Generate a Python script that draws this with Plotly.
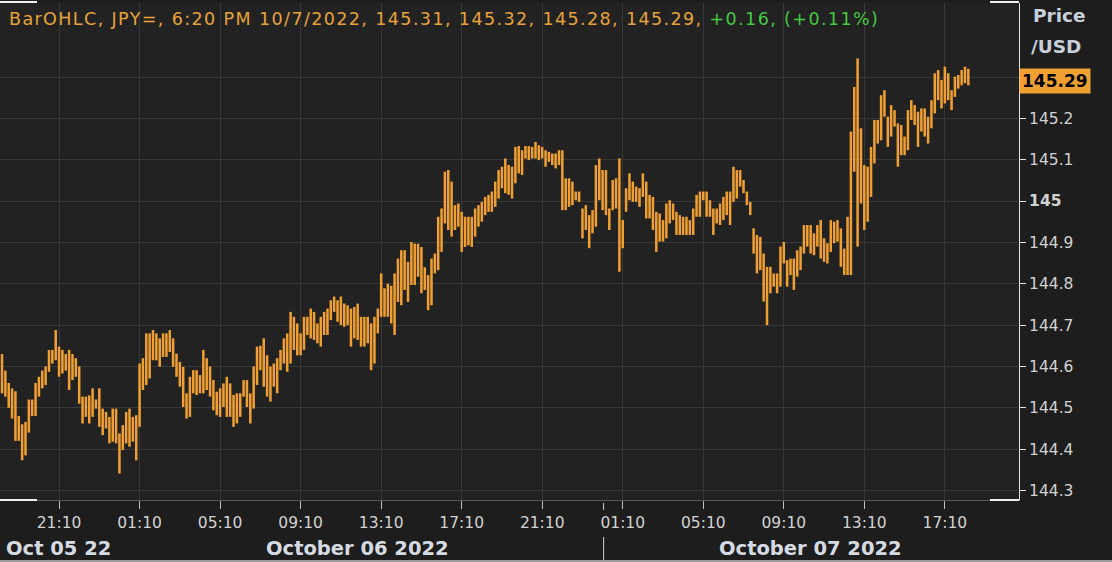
import pandas as pd
import plotly.graph_objects as go

# ---------------- data (10-minute bars, USD/JPY) ----------------
bar_high = [
    # Oct 5 evening -> Oct 6 morning
    144.630, 144.590, 144.560, 144.547, 144.540, 144.480, 144.460, 144.466, 144.520, 144.520,
    144.560, 144.575, 144.590, 144.600, 144.640, 144.640, 144.688, 144.648, 144.640, 144.630,
    144.640, 144.630, 144.620, 144.600, 144.527, 144.527, 144.530, 144.547, 144.520, 144.547,
    144.498, 144.490, 144.478, 144.498, 144.498, 144.438, 144.458, 144.490, 144.498, 144.478,
    144.482, 144.607, 144.620, 144.680, 144.680, 144.688, 144.680, 144.668, 144.680, 144.680,
    144.688, 144.668, 144.631, 144.611, 144.599, 144.535, 144.575, 144.591, 144.591, 144.579,
    144.640, 144.620, 144.600, 144.567, 144.539, 144.547, 144.559, 144.575, 144.559, 144.531,
    144.535, 144.535, 144.567, 144.567,
    # Oct 6 day
    144.535, 144.600, 144.648, 144.650, 144.668, 144.627, 144.600, 144.607, 144.620, 144.640,
    144.668, 144.680, 144.732, 144.720, 144.704, 144.680, 144.720, 144.720, 144.740, 144.732,
    144.704, 144.720, 144.732, 144.740, 144.760, 144.769, 144.760, 144.769, 144.752, 144.748,
    144.740, 144.744, 144.752, 144.720, 144.720, 144.720, 144.704, 144.720, 144.740, 144.825,
    144.789, 144.800, 144.795, 144.825, 144.861, 144.881, 144.881, 144.853, 144.901, 144.897,
    144.897, 144.889, 144.840, 144.821, 144.861, 144.873, 144.962, 144.982, 145.071, 145.075,
    145.047, 144.990, 144.994, 144.974, 144.962, 144.962, 144.962, 144.982, 144.990, 144.998,
    145.010, 145.015, 145.023, 145.047, 145.075,
    # Oct 6 evening -> Oct 7 morning
    145.083, 145.103, 145.087, 145.083, 145.131, 145.133, 145.123, 145.133, 145.133, 145.131,
    145.143, 145.135, 145.131, 145.123, 145.119, 145.115, 145.115, 145.123, 145.123, 145.055,
    145.055, 145.047, 145.023, 145.023, 144.982, 144.990, 144.966, 144.978, 145.087, 145.103,
    145.075, 145.075, 144.982, 145.051, 145.055, 145.103, 144.954, 145.031, 145.067, 145.047,
    145.035, 145.031, 145.067, 145.047, 145.015, 145.010, 144.974, 144.970, 144.954, 144.994,
    145.002, 144.994, 144.974, 144.966, 144.962, 144.962, 144.954, 144.982, 145.015, 145.023,
    145.023, 145.023, 145.002, 144.982, 144.982, 144.994, 145.010, 145.023, 145.023, 145.083,
    145.075, 145.075, 145.051, 145.023, 144.998,
    # Oct 7 day
    144.934, 144.918, 144.913, 144.873, 144.841, 144.841, 144.825, 144.825, 144.890, 144.901,
    144.857, 144.861, 144.861, 144.881, 144.890, 144.942, 144.942, 144.942, 144.922, 144.942,
    144.954, 144.910, 144.898, 144.954, 144.950, 144.954, 144.934, 144.885, 144.962, 145.168,
    145.276, 145.345, 145.176, 145.087, 145.083, 145.131, 145.196, 145.196, 145.256, 145.268,
    145.204, 145.232, 145.220, 145.188, 145.184, 145.156, 145.220, 145.244, 145.232, 145.216,
    145.224, 145.224, 145.204, 145.244, 145.309, 145.317, 145.293, 145.325, 145.309, 145.268,
    145.301, 145.305, 145.317, 145.325, 145.320,
]
bar_low = [
    144.535, 144.527, 144.500, 144.474, 144.420, 144.420, 144.373, 144.385, 144.440, 144.480,
    144.480, 144.527, 144.547, 144.555, 144.587, 144.607, 144.615, 144.575, 144.583, 144.590,
    144.543, 144.567, 144.575, 144.510, 144.462, 144.478, 144.462, 144.478, 144.498, 144.454,
    144.434, 144.450, 144.414, 144.418, 144.414, 144.341, 144.398, 144.414, 144.406, 144.418,
    144.373, 144.454, 144.543, 144.555, 144.571, 144.615, 144.615, 144.599, 144.623, 144.623,
    144.635, 144.599, 144.575, 144.551, 144.502, 144.474, 144.478, 144.535, 144.531, 144.535,
    144.535, 144.543, 144.527, 144.494, 144.482, 144.478, 144.502, 144.478, 144.478, 144.454,
    144.462, 144.478, 144.527, 144.502,
    144.462, 144.498, 144.555, 144.591, 144.551, 144.527, 144.515, 144.551, 144.535, 144.591,
    144.607, 144.587, 144.607, 144.640, 144.627, 144.627, 144.640, 144.676, 144.668, 144.664,
    144.656, 144.648, 144.676, 144.676, 144.712, 144.732, 144.708, 144.700, 144.696, 144.700,
    144.648, 144.668, 144.664, 144.648, 144.648, 144.656, 144.591, 144.607, 144.680, 144.720,
    144.720, 144.720, 144.704, 144.676, 144.756, 144.748, 144.785, 144.756, 144.797, 144.797,
    144.817, 144.777, 144.785, 144.736, 144.748, 144.825, 144.833, 144.877, 144.946, 144.930,
    144.914, 144.930, 144.938, 144.877, 144.889, 144.893, 144.889, 144.914, 144.938, 144.950,
    144.966, 144.974, 144.974, 144.986, 145.006,
    145.031, 145.019, 145.015, 145.006, 145.043, 145.067, 145.063, 145.103, 145.099, 145.103,
    145.103, 145.099, 145.103, 145.083, 145.095, 145.087, 145.079, 145.087, 144.978, 144.978,
    144.986, 144.990, 145.002, 144.998, 144.910, 144.930, 144.886, 144.922, 144.938, 145.002,
    144.978, 144.966, 144.930, 144.978, 144.982, 144.829, 144.886, 144.974, 145.002, 144.998,
    144.998, 144.986, 145.010, 144.958, 144.958, 144.930, 144.877, 144.902, 144.902, 144.910,
    144.946, 144.954, 144.918, 144.918, 144.918, 144.918, 144.918, 144.918, 144.962, 144.962,
    145.002, 144.962, 144.962, 144.918, 144.946, 144.942, 144.954, 144.966, 144.942, 144.998,
    145.006, 145.035, 145.019, 144.990, 144.966,
    144.873, 144.825, 144.833, 144.757, 144.700, 144.777, 144.793, 144.777, 144.793, 144.849,
    144.793, 144.821, 144.785, 144.817, 144.833, 144.873, 144.890, 144.873, 144.869, 144.890,
    144.861, 144.853, 144.849, 144.877, 144.898, 144.902, 144.841, 144.821, 144.821, 144.821,
    145.071, 144.890, 144.994, 144.930, 144.950, 145.010, 145.091, 145.139, 145.147, 145.204,
    145.131, 145.156, 145.180, 145.083, 145.111, 145.111, 145.123, 145.196, 145.184, 145.131,
    145.168, 145.156, 145.139, 145.176, 145.212, 145.244, 145.224, 145.236, 145.244, 145.220,
    145.252, 145.272, 145.280, 145.285, 145.280,
]
last_bar_time = "2022-10-07 18:20"
last_ohlc = ["145.31", "145.32", "145.28", "145.29"]
last_change = ["+0.16", "(+0.11%)"]
last_price = 145.29

x_tick_times = ["2022-10-05 21:10", "2022-10-06 01:10", "2022-10-06 05:10", "2022-10-06 09:10",
                "2022-10-06 13:10", "2022-10-06 17:10", "2022-10-06 21:10", "2022-10-07 01:10",
                "2022-10-07 05:10", "2022-10-07 09:10", "2022-10-07 13:10", "2022-10-07 17:10"]
x_tick_labels = ["21:10", "01:10", "05:10", "09:10", "13:10", "17:10",
                 "21:10", "01:10", "05:10", "09:10", "13:10", "17:10"]
y_tick_vals = [144.3, 144.4, 144.5, 144.6, 144.7, 144.8, 144.9, 145.0, 145.1, 145.2, 145.3]
y_tick_text = ["144.3", "144.4", "144.5", "144.6", "144.7", "144.8", "144.9",
               "<b>145</b>", "145.1", "145.2", ""]
date_labels = ["Oct 05 22", "October 06 2022", "October 07 2022"]

# ---------------- styling ----------------
ORANGE = "#f0a032"
PLOT_BG = "#222222"
PAPER_BG = "#1d1d1d"
GRID = "#383838"
FONT = "DejaVu Sans"
X0, X1 = "2022-10-05 18:14", "2022-10-07 20:51"
Y0, Y1 = 144.277, 145.479

n = len(bar_high)
times = pd.date_range(end=last_bar_time, periods=n, freq="10min")
spans = [h - l for h, l in zip(bar_high, bar_low)]

fig = go.Figure()
fig.add_trace(go.Bar(
    x=times, y=spans, base=bar_low,
    width=450000,
    marker=dict(color=ORANGE, line=dict(width=0)),
    hoverinfo="skip",
))

title_html = ('<span style="color:#e8a23c;letter-spacing:1.4px">BarOHLC, JPY=, 6:20 PM 10/7/2022, '
              + ", ".join(last_ohlc) + ', </span>'
              + '<span style="color:#43c943;letter-spacing:1.4px">' + ", ".join(last_change) + '</span>')

H = 497.0  # plot height in px
W = 1019.0  # plot width in px


def py(px):
    return (500 - px) / H


def px_(x):
    return x / W


DATE_FONT = dict(family=FONT, size=19.5, color="#d6dbe3")
annotations = [
    dict(text=title_html, xref="paper", yref="paper", x=px_(7), y=py(19),
         xanchor="left", yanchor="middle", showarrow=False,
         font=dict(family=FONT, size=17.5, color="#e8a23c")),
    dict(text="<b>Price</b>", xref="paper", yref="paper",
         x=px_(1031), y=py(16), xanchor="left", yanchor="middle", align="left",
         showarrow=False, font=dict(family=FONT, size=18.5, color="#c8d0dc")),
    dict(text="<b>/USD</b>", xref="paper", yref="paper",
         x=px_(1029), y=py(46), xanchor="left", yanchor="middle", align="left",
         showarrow=False, font=dict(family=FONT, size=18.5, color="#c8d0dc")),
    dict(text="<b>%.2f</b>" % last_price, xref="paper", yref="y", x=1.0, y=last_price,
         xanchor="left", yanchor="middle", showarrow=False, bgcolor=ORANGE,
         borderpad=2, font=dict(family=FONT, size=17, color="#000000")),
    dict(text="<b>%s</b>" % date_labels[0], xref="paper", yref="paper", x=px_(4), y=py(548),
         xanchor="left", yanchor="middle", showarrow=False, font=DATE_FONT),
    dict(text="<b>%s</b>" % date_labels[1], xref="x", yref="paper", x="2022-10-06 12:00",
         y=py(548), xanchor="center", yanchor="middle", showarrow=False, font=DATE_FONT),
    dict(text="<b>%s</b>" % date_labels[2], xref="x", yref="paper", x="2022-10-07 10:30",
         y=py(548), xanchor="center", yanchor="middle", showarrow=False, font=DATE_FONT),
]

shapes = [
    # band behind the header text (covers vertical grid lines)
    dict(type="rect", xref="x", yref="y", x0=X0, x1=X1, y0=145.406, y1=Y1,
         fillcolor=PLOT_BG, line=dict(width=0), layer="below"),
    # day separator
    dict(type="line", xref="x", yref="paper", x0="2022-10-07 00:13", x1="2022-10-07 00:13",
         y0=py(537), y1=py(562), line=dict(color="#d0d0d0", width=1)),
    dict(type="line", xref="x", yref="paper", x0="2022-10-07 00:13", x1="2022-10-07 00:13",
         y0=py(503), y1=py(510), line=dict(color="#d0d0d0", width=1)),
    # white range handles
    dict(type="line", xref="paper", yref="paper", x0=0, x1=px_(37), y0=py(2), y1=py(2),
         line=dict(color="#f0f0f0", width=2)),
    dict(type="line", xref="paper", yref="paper", x0=0, x1=px_(37), y0=0, y1=0,
         line=dict(color="#f0f0f0", width=2)),
    dict(type="line", xref="paper", yref="paper", x0=px_(990), x1=1, y0=0, y1=0,
         line=dict(color="#f0f0f0", width=2)),
    dict(type="line", xref="paper", yref="paper", x0=px_(990), x1=1, y0=py(2), y1=py(2),
         line=dict(color="#f0f0f0", width=2)),
    # bottom edge
    dict(type="line", xref="paper", yref="paper", x0=0, x1=px_(1112), y0=py(561), y1=py(561),
         line=dict(color="#9a9a9a", width=2)),
]

fig.update_layout(
    width=1112, height=562,
    margin=dict(l=0, r=93, t=3, b=62, autoexpand=False),
    paper_bgcolor=PAPER_BG, plot_bgcolor=PLOT_BG,
    showlegend=False,
    font=dict(family=FONT, size=15, color="#d0d0d0"),
    annotations=annotations,
    shapes=shapes,
    xaxis=dict(
        type="date", range=[X0, X1], tickmode="array",
        tickvals=x_tick_times, ticktext=x_tick_labels,
        showgrid=True, gridcolor=GRID, gridwidth=1, zeroline=False,
        showline=True, linecolor="#5a5a5a", linewidth=1,
        ticks="outside", ticklen=8, tickcolor="#bdbdbd", tickwidth=1,
        tickfont=dict(family=FONT, size=15.5, color="#d2d2d2"),
        fixedrange=True,
    ),
    yaxis=dict(
        side="right", range=[Y0, Y1], tickmode="array",
        tickvals=y_tick_vals, ticktext=y_tick_text,
        showgrid=True, gridcolor=GRID, gridwidth=1, zeroline=False,
        showline=True, linecolor="#e6e6e6", linewidth=1,
        ticks="outside", ticklen=6, tickcolor="#e6e6e6", tickwidth=1,
        tickfont=dict(family=FONT, size=15.5, color="#d2d2d2"),
        fixedrange=True,
    ),
)

fig.write_html(
    "out.html",
    config={"displayModeBar": False},
    post_script="document.body.style.margin='0';document.body.style.background='#1d1d1d';",
)
